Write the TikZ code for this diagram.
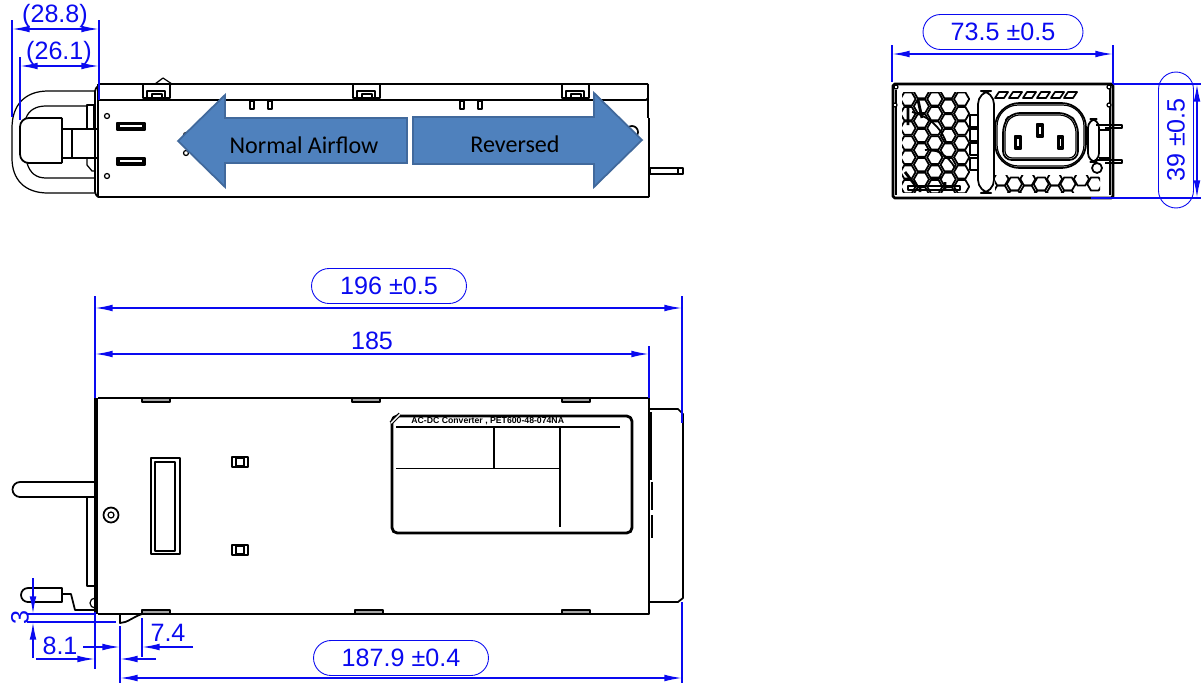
\documentclass[tikz,border=0pt]{standalone}
\usepackage{fontspec}
\setmainfont{Liberation Sans}
\newfontfamily\arrowfont{Carlito}
\usepackage{xcolor}
\usepackage{tikz}
\usetikzlibrary{arrows.meta,shapes.misc}
\definecolor{dimblue}{HTML}{0A0AF0}
\definecolor{flowfill}{HTML}{4F81BD}
\definecolor{flowline}{HTML}{41699C}
\tikzset{
    part/.style={draw=black,line width=1pt,line join=round},
    thin part/.style={draw=black,line width=0.7pt,line join=round},
    heavy part/.style={draw=black,line width=1.6pt,line join=round},
    dimline/.style={draw=dimblue,line width=0.85pt},
    dimarrow/.style={dimline,-{Latex[length=10pt,width=3.8pt]}},
    dimboth/.style={dimline,{Latex[length=10pt,width=3.8pt]}-{Latex[length=10pt,width=3.8pt]}},
    dimtext/.style={text=dimblue,font=\fontsize{14.3}{16}\selectfont,inner sep=0pt},
    dimbox/.style={dimtext,draw=dimblue,line width=0.5pt,rounded rectangle,minimum height=0.7cm},
    flow/.style={fill=flowfill,draw=flowline,line width=1pt,line join=miter},
    flowtext/.style={font=\arrowfont\fontsize{13.7}{15}\selectfont,text=black,inner sep=0pt},
    topclip/.pic={
        \draw[part] (0,1) -- (0,14) -- (27,14) -- (27,1);
        \draw[part] (4,14) -- (4,7) -- (22,7) -- (22,14);
        \draw[thin part] (9,10) rectangle (19,14);
    },
    bottomclip/.pic={
        \draw[part,fill=gray!70] (0,0) rectangle (28,4);
    },
    hexcell/.pic={
        \draw[part] (0:7.6) -- (60:7.6) -- (120:7.6) -- (180:7.6) -- (240:7.6) -- (300:7.6) -- cycle;
    },
}

\begin{document}
\begin{tikzpicture}[x=0.02cm, y=-0.02cm, >=stealth]
    \useasboundingbox (0,0) rectangle (1201,683);

    \draw[thin part] (95,91) -- (48,91) .. controls (25,91) and (12,105) .. (12,128) -- (12,158) .. controls (12,180) and (25,193) .. (48,193) -- (95,193);
    \draw[thin part] (87,106) -- (46,106) .. controls (36,106) and (29,110) .. (26,118);
    \draw[thin part] (27,163) .. controls (30,173) and (36,178) .. (46,178) -- (95,178);
    \draw[part,fill=white,rounded corners=5pt] (62,118) -- (20,118) -- (20,163) -- (62,163);
    \draw[part] (62,118) -- (62,163);
    \draw[part] (62,129) -- (98,129) (62,158) -- (98,158) (72,129) -- (72,158);
    \draw[thin part] (87,105) rectangle (94,129);
    \draw[thin part] (87,158) -- (87,165) -- (92,171) -- (94,171);
    \draw[part,rounded corners=2pt] (98,86) -- (95,88) -- (95,195) -- (98,197);
    \draw[part] (98,84) -- (648,84) (98,197) -- (649,197) (98,100) -- (646,100) -- (648,98);
    \draw[heavy part] (98,84) -- (98,197) (648,84) -- (648,118);
    \draw[part] (649,118) -- (649,197);
    \draw[thin part] (155,84) -- (163,78) -- (172,84) -- (170,85);
    \foreach \clipx in {143,353,562}
        \path (\clipx,84) pic {topclip};
    \foreach \pinx in {250,268,460,478}
        \draw[thin part] (\pinx,101) rectangle (\pinx+4,109);
    \foreach \sloty in {123,158}
        \draw[part,fill=black] (117,\sloty) rectangle (145,\sloty+7);
    \foreach \sloty in {125,160}
        \draw[white,line width=0.7pt] (120,\sloty+1) -- (142,\sloty+1);
    \foreach \holex/\holey in {107/116,107/176,186/135,186/153}
        \draw[thin part] (\holex,\holey) circle (2.5);
    \draw[part] (632,132) circle (6);
    \draw[thin part] (650,168) rectangle (683,174) (678,168) -- (678,174);

    \draw[flow] (178,141) -- (225,95) -- (225,118) -- (407,118) -- (407,163) -- (225,163) -- (225,187) -- cycle;
    \draw[flow] (642,140) -- (594,93) -- (594,117) -- (413,117) -- (413,164) -- (594,164) -- (594,187) -- cycle;
    \node[flowtext] (normal) at (304,145) {Normal Airflow};
    \node[flowtext] (reversed) at (515,144) {Reversed};

    \draw[heavy part,rounded corners=1pt] (893,84) rectangle (1113,198);
    \draw[thin part] (896,90) -- (896,195) (1110,88) -- (1110,195);
    \foreach \screwx/\screwy in {896/87,1109/87,895/105,1109/105}
        \draw[thin part,fill=white] (\screwx,\screwy) circle (2);
    \begin{scope}
        \clip (902,92) rectangle (978,192);
        \foreach \col in {0,2,4}
            \foreach \row in {0,...,6}
                \path (908+13.4*\col,99+14.6*\row) pic {hexcell};
        \foreach \col in {1,3}
            \foreach \row in {0,...,7}
                \path (908+13.4*\col,91.7+14.6*\row) pic {hexcell};
        \draw[part] (912,112) .. controls (925,115) and (940,125) .. (946,142);
        \draw[part] (925,150) .. controls (935,148) and (948,155) .. (955,168);
        \draw[heavy part] (908,105) -- (908,125) (918,100) -- (922,118) (905,172) -- (915,185) (930,178) -- (942,178) (945,182) -- (945,190) (920,186) -- (920,192);
        \draw[heavy part] (908,186) rectangle (960,190);
    \end{scope}
    \foreach \bary in {115,129,143,158}
        \draw[part,fill=white] (970,\bary) rectangle (978,\bary+12);
    \draw[part,fill=white,rounded corners=7.5pt] (978,91) rectangle (994,193);
    \foreach \topx in {995,1009,1023,1037,1051,1064}
        \draw[part] (\topx,98) -- (\topx+4,92) -- (\topx+13,92) -- (\topx+9,98) -- cycle;
    \begin{scope}
        \clip (995,175) rectangle (1100,192);
        \foreach \col in {0,...,7}
            \path ({1001+13.4*\col},{179+5*mod(\col,2)}) pic {hexcell};
        \foreach \col in {0,...,5}
            \path ({1001+13.4*\col},{192+5*mod(\col,2)}) pic {hexcell};
    \end{scope}
    \draw[part,fill=white,rounded corners=14pt] (995,103) rectangle (1086,168);
    \draw[thin part,rounded corners=12pt] (997,105) rectangle (1084,166);
    \draw[part,rounded corners=5pt] (1011,113) -- (1068,113) -- (1078,124) -- (1078,160) -- (1003,160) -- (1003,124) -- cycle;
    \draw[thin part,rounded corners=4pt] (1012,115) -- (1067,115) -- (1076,125) -- (1076,158) -- (1005,158) -- (1005,125) -- cycle;
    \draw[part,fill=black] (1037,124) rectangle (1043,137);
    \draw[part,fill=black] (1015,136) rectangle (1021,149);
    \draw[part,fill=black] (1058,136) rectangle (1063,149);
    \draw[white,line width=0.8pt] (1040,127) -- (1040,134) (1018,139) -- (1018,146) (1060.5,139) -- (1060.5,146);
    \draw[part,rounded corners=5pt] (1088,119) rectangle (1099,162);
    \draw[part] (1099,130) -- (1110,130) -- (1110,158) -- (1099,158);
    \draw[thin part] (1096,125) -- (1122,125) -- (1122,128) -- (1105,128) (1096,160) -- (1122,160) -- (1122,163) -- (1105,163);
    \draw[part] (1097,168) circle (5);

    \draw[part] (98,398) -- (649,398) -- (649,614) -- (98,614);
    \draw[heavy part] (97,398) -- (97,614);
    \draw[part] (95,398) -- (95,612);
    \draw[part] (649,409) -- (678,409) -- (683,414) -- (683,598) -- (678,602) -- (649,602);
    \draw[heavy part] (651,412) -- (651,480) (652,482) -- (652,510) (652,515) -- (652,538);
    \foreach \clipx in {142,352,562}
        \path (\clipx,398) pic {bottomclip};
    \foreach \clipx in {142,355,562}
        \path (\clipx,610) pic {bottomclip};
    \draw[part] (151,458) rectangle (180,554);
    \draw[part] (155,462) rectangle (175,551);
    \foreach \connecty in {462,550}{
        \draw[part] (232,\connecty-5) rectangle (248,\connecty+5);
        \draw[part] (236,\connecty-4) rectangle (244,\connecty+4);
    }
    \draw[part] (111,515) circle (7.5);
    \draw[thin part] (111,515) circle (3);
    \draw[part] (95,482) -- (20,482) arc (270:90:7.5) -- (95,497);
    \draw[part] (87,497) -- (87,586) -- (95,586);
    \draw[part] (62,588) -- (28,588) arc (270:90:7) -- (62,602) -- cycle;
    \draw[part] (62,594) -- (71,594) -- (75,610) -- (95,610);
    \draw[thin part] (95,598) arc (270:90:5);
    \draw[part] (120,614) -- (120,623) .. controls (127,623) and (133,617) .. (142,614);
    \draw[heavy part,rounded corners=3pt] (392,416) rectangle (632,533);
    \draw[part] (396,427) -- (620,427);
    \draw[part] (494,427) -- (494,468) (396,468.5) -- (560,468.5) (560,427) -- (560,527);
    \draw[thin part,double,double distance=0.8pt] (391,423) -- (400,414);
    \node[font=\bfseries\fontsize{4.95}{6}\selectfont,inner sep=0pt,anchor=west] (convlabel) at (411,421.5) {AC-DC Converter , PET600-48-074NA};

    \foreach \pointname/\pointx/\pointy in {
        a1/12/20, a2/12/117, a3/99/20, a4/99/100, a5/20/57, a6/20/120, a7/99/57,
        a8/12/29, a9/99/29, a10/20/66, a11/99/66,
        b1/892/45, b2/892/82, b3/1113/45, b4/1113/84, b5/892/54, b6/1113/54,
        b7/1113/84, b8/1201/84, b9/1091/198, b10/1201/198, b11/1197/84, b12/1197/198,
        c1/95/296, c2/95/398, c3/682/296, c4/682/423, c5/649/346, c6/649/398,
        c7/95/308, c8/682/308, c9/95/354, c10/649/354,
        c11/682/602, c12/682/683, c13/120/626, c14/120/683, c15/120/678, c16/682/678,
        d1/27/614, d2/95/614, d3/27/622, d4/116/622, d5/33/578, d6/33/614, d7/33/658, d8/33/622,
        e1/36/659, e2/95/659, e3/156/659, e4/120/659, e5/95/612, e6/95/669,
        e7/83/647, e8/120/647, e9/193/647, e10/142/647, e11/142/618, e12/142/657
    }
        \coordinate (\pointname) at (\pointx,\pointy);

    \path[dimline] (a1) edge (a2) (a3) edge (a4) (a5) edge (a6) (a7) edge (a4);
    \path (a8) edge[dimboth] (a9) (a10) edge[dimboth] (a11);
    \path[dimline] (b1) edge (b2) (b3) edge (b4) (b7) edge (b8) (b9) edge (b10);
    \path (b5) edge[dimboth] (b6) (b11) edge[dimboth] (b12);
    \path[dimline] (c1) edge (c2) (c3) edge (c4) (c5) edge (c6) (c11) edge (c12) (c13) edge (c14);
    \path (c7) edge[dimboth] (c8) (c9) edge[dimboth] (c10) (c15) edge[dimboth] (c16);
    \path[dimline] (d1) edge (d2) (d3) edge (d4) (e5) edge (e6) (e11) edge (e12);
    \path (d5) edge[dimarrow] (d6) (d7) edge[dimarrow] (d8) (e1) edge[dimarrow] (e2) (e3) edge[dimarrow] (e4) (e7) edge[dimarrow] (e8) (e9) edge[dimarrow] (e10);

    \node[dimtext] (dim288) at (55,16) {(28.8)};
    \node[dimtext] (dim261) at (59,53) {(26.1)};
    \node[dimbox,minimum width=3.2cm] (dim735) at (1003,32) {73.5 ±0.5};
    \node[dimbox,minimum width=2.72cm,rotate=90] (dim39) at (1176,140) {39 ±0.5};
    \node[dimbox,minimum width=3.1cm] (dim196) at (389,286) {196 ±0.5};
    \node[dimtext] (dim185) at (372,341) {185};
    \node[dimbox,minimum width=3.5cm] (dim1879) at (401,658) {187.9 ±0.4};
    \node[dimtext,rotate=90] (dim3) at (20,618) {3};
    \node[dimtext] (dim81) at (60,646) {8.1};
    \node[dimtext] (dim74) at (168,633) {7.4};
\end{tikzpicture}
\end{document}
